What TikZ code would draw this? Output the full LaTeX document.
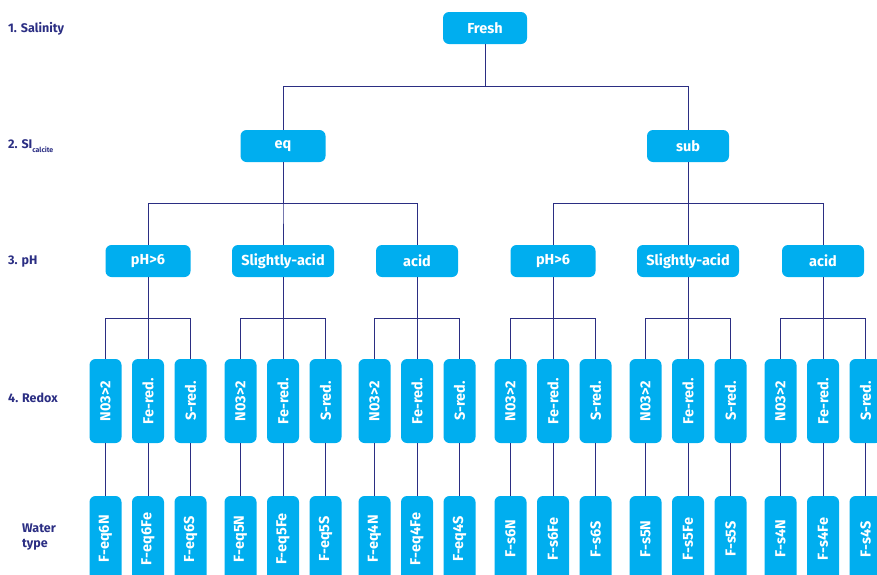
\documentclass[tikz,border=0pt]{standalone}
\usepackage{fontspec}
\setmainfont{Fira Sans}
\definecolor{cy}{HTML}{00AEEF}
\definecolor{navy}{HTML}{2B2E83}
\tikzset{
  box/.style={fill=cy, rounded corners=6pt, text=white, inner sep=0pt,
    font=\bfseries\fontsize{14.5}{16}\selectfont, minimum height=32pt},
  vbox/.style={box, rotate=90, minimum height=32pt},
  lbl/.style={text=navy, font=\bfseries\fontsize{12.5}{15}\selectfont, anchor=west, inner sep=0pt},
  conn/.style={navy, line width=1pt}
}
\begin{document}
\begin{tikzpicture}[x=1pt,y=-1pt]
\useasboundingbox (0,0) rectangle (877,574);
\clip (0,0) rectangle (877,574);
% labels
\node[lbl] (l1) at (8,28.5) {1. Salinity};
\node[lbl] (l2) at (8,146.5) {2. SI\raisebox{-0.6ex}{\fontsize{7}{8}\selectfont calcite}};
\node[lbl] (l3) at (8,261.5) {3. pH};
\node[lbl] (l4) at (8,397.5) {4. Redox};
\node[lbl, align=left, anchor=north west] (l5) at (22,524) {Water\\type};
% level 1,2
\node[box, minimum width=84pt] (fresh) at (485,28) {Fresh};
\node[box, minimum width=85pt] (eq) at (283,146) {eq};
\node[box, minimum width=82pt] (sub) at (688,146) {sub};
\foreach \c in {eq,sub} \draw[conn] (fresh.south) -- ++(0,42) -| (\c.north);
% level 3
\foreach \x/\n/\t/\w/\p in {148/p1/pH>6/85/eq, 283/p2/Slightly-acid/102/eq, 417/p3/acid/82/eq,
  553/p4/pH>6/85/sub, 688/p5/Slightly-acid/102/sub, 823/p6/acid/82/sub}{
  \node[box, minimum width=\w pt] (\n) at (\x,261) {\t};
  \draw[conn] (\p.south) -- ++(0,41) -| (\n.north);
}
% level 4 and water types
\foreach \x/\n/\k in {148/p1/eq6, 283/p2/eq5, 417/p3/eq4, 553/p4/s6, 688/p5/s5, 823/p6/s4}{
  \node[vbox, minimum width=84pt] (\n a) at (\x-42.5,401) {N03>2};
  \node[vbox, minimum width=84pt] (\n b) at (\x,401) {Fe-red.};
  \node[vbox, minimum width=84pt] (\n c) at (\x+42.5,401) {S-red.};
  \node[vbox, minimum width=86pt] (\n wa) at (\x-42.5,539) {F-\k N};
  \node[vbox, minimum width=86pt] (\n wb) at (\x,539) {F-\k Fe};
  \node[vbox, minimum width=86pt] (\n wc) at (\x+42.5,539) {F-\k S};
  \draw[conn] (\n.south) -- ++(0,41) coordinate (\n bar) -| (\n a.east);
  \draw[conn] (\n bar) -| (\n c.east);
  \draw[conn] (\n bar) -- (\n b.east);
  \foreach \s in {a,b,c}{
    \draw[conn] (\n\s.west) -- (\n w\s.east);
  }
}
\end{tikzpicture}
\end{document}
